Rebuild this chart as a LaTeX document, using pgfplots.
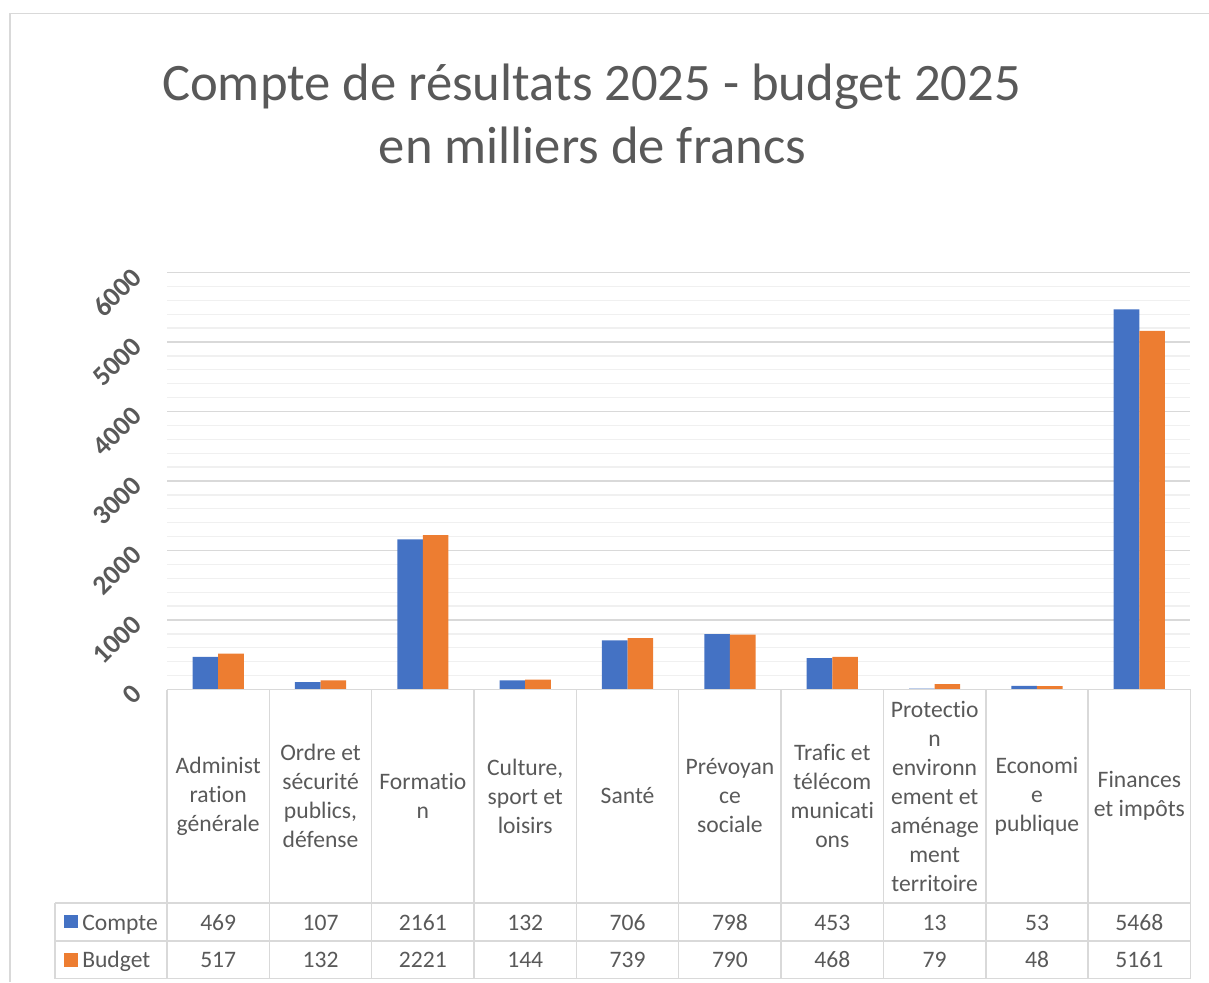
\documentclass[border=0pt]{standalone}
\usepackage{fontspec}
\setmainfont{Carlito}[Ligatures={NoCommon}]
\usepackage{pgfplots}
\usepackage{pgfplotstable}
\pgfplotsset{compat=1.18}
\definecolor{cblue}{HTML}{4472C4}
\definecolor{corange}{HTML}{ED7D31}
\definecolor{txt}{HTML}{595959}
\definecolor{majg}{HTML}{D9D9D9}
\definecolor{ming}{HTML}{F0F0F0}

% Compte / Budget, en milliers de francs
\pgfplotstableread{
x compte budget
0 469 517
1 107 132
2 2161 2221
3 132 144
4 706 739
5 798 790
6 453 468
7 13 79
8 53 48
9 5468 5161
}\data

\begin{document}
\begin{tikzpicture}[x=0.75pt,y=-0.75pt]
\path[use as bounding box] (0,0) rectangle (1209,982);
% chart frame
\draw[majg, line width=1.2pt] (10,982) -- (10,13.5) -- (1209,13.5);
% title
\node[txt, anchor=base, inner sep=0pt, font=\fontsize{39.5}{47}\selectfont] at (591.5,100) {Compte de résultats 2025 - budget 2025};
\node[txt, anchor=base, inner sep=0pt, font=\fontsize{39.5}{47}\selectfont] at (592.5,163) {en milliers de francs};

\coordinate (O) at (167,689.5);
\begin{axis}[
    at={(O)}, anchor=south west,
    scale only axis,
    width=767.6pt, height=312.75pt,
    xmin=-0.5, xmax=9.5, ymin=0, ymax=6000,
    ybar=0pt, bar width=19.2pt,
    axis line style={draw=none},
    xtick=\empty,
    ytick={0,1000,...,6000},
    minor y tick num=4,
    ymajorgrids, yminorgrids,
    major grid style={majg, line width=1pt},
    minor grid style={ming, line width=1pt},
    tick style={draw=none},
    major tick length=0pt, minor tick length=0pt,
    /pgf/number format/1000 sep={},
    /pgf/number format/assume math mode=true,
    yticklabel style={font=\bfseries\fontsize{20.5}{22}\selectfont, text=txt,
        inner sep=0pt, xshift=-22.5pt, rotate=45, anchor=east},
]
\addplot[fill=cblue, draw=none] table[x=x, y=compte] {\data};
\addplot[fill=corange, draw=none] table[x=x, y=budget] {\data};
\end{axis}

% data table
\begin{scope}[majg, line width=1.1pt]
\draw (167,689.5) -- (1190.5,689.5);
\draw (55,903) -- (1190.5,903);
\draw (55,941) -- (1190.5,941);
\draw (55,978.5) -- (1190.5,978.5);
\draw (55,903) -- (55,978.5);
\foreach \k in {0,...,10} \draw ({167+102.35*\k},689.5) -- ({167+102.35*\k},978.5);
\end{scope}

\begin{scope}[every node/.style={text=txt, font=\fontsize{17.7}{21.75}\selectfont, inner sep=0pt}]
\foreach \lab [count=\i from 0] in {{Administ\\ration\\générale},
    {Ordre et\\sécurité\\publics,\\défense},
    {Formatio\\n},
    {Culture,\\sport et\\loisirs},
    {Santé},
    {Prévoyan\\ce\\sociale},
    {Trafic et\\télécom\\municati\\ons},
    {Protectio\\n\\environn\\ement et\\aménage\\ment\\territoire},
    {Economi\\e\\publique},
    {Finances\\et impôts}}
  \node[align=center] at ({218.2+102.35*\i},796) {\lab};
\foreach \v [count=\i from 0] in {469,107,2161,132,706,798,453,13,53,5468}
  \node[anchor=base] at ({218.2+102.35*\i},930) {\v};
\foreach \v [count=\i from 0] in {517,132,2221,144,739,790,468,79,48,5161}
  \node[anchor=base] at ({218.2+102.35*\i},967) {\v};
\fill[cblue] (64,914.5) rectangle (77.7,928.3);
\node[anchor=base west] at (82,930) {Compte};
\fill[corange] (64,952.7) rectangle (77.7,966.5);
\node[anchor=base west] at (82,967) {Budget};
\end{scope}
\end{tikzpicture}
\end{document}
